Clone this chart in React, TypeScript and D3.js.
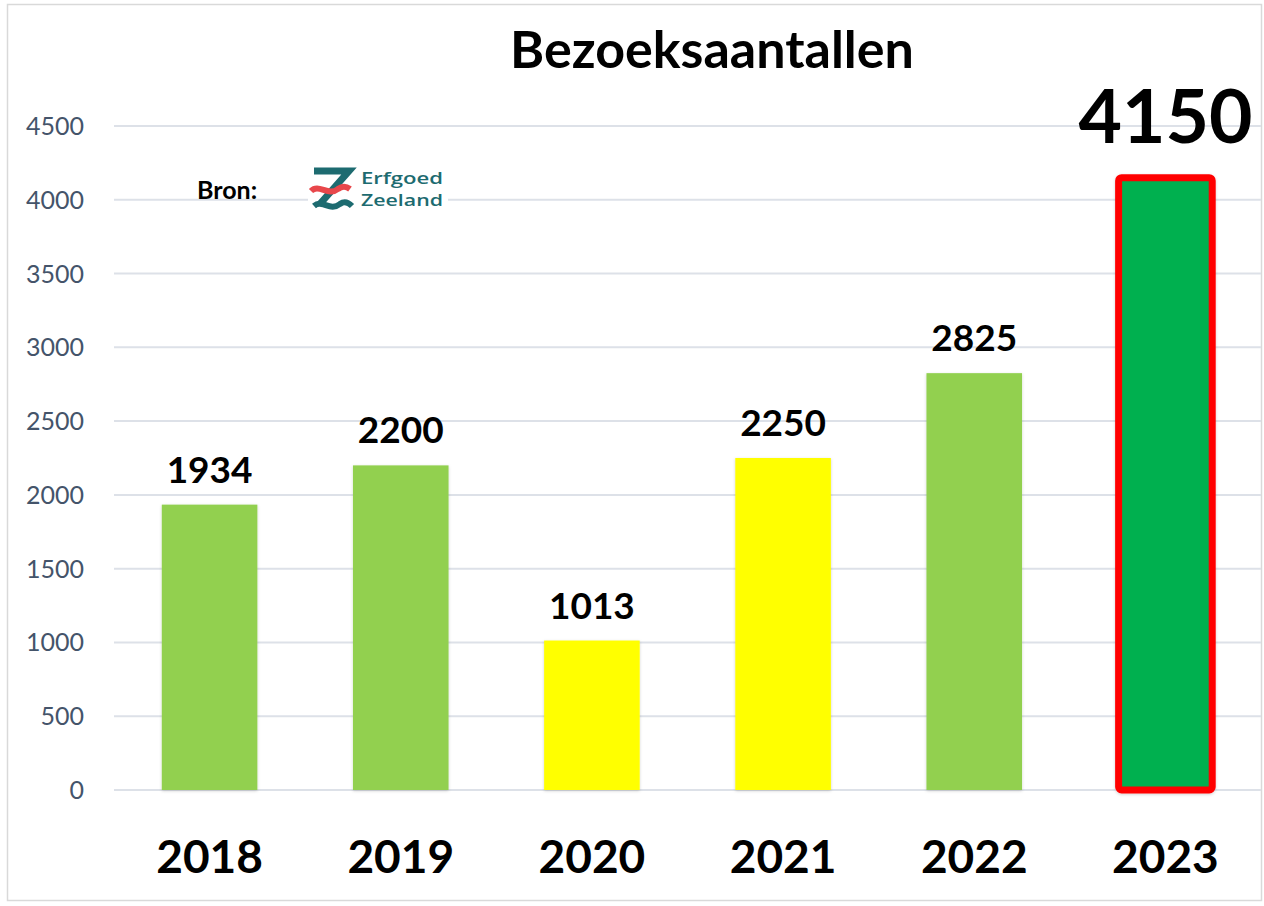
import React from "react";
import * as d3 from "d3";

const years = ["2018", "2019", "2020", "2021", "2022", "2023"];
const visitors = [1934, 2200, 1013, 2250, 2825, 4150];
const barColors = ["#92d050", "#92d050", "#ffff00", "#ffff00", "#92d050", "#00b050"];
const yTicks = [0, 500, 1000, 1500, 2000, 2500, 3000, 3500, 4000, 4500];
const chartTitle = "Bezoeksaantallen";

const W = 1264;
const H = 906;
const FONT = "Lato, 'Open Sans', sans-serif";

export default function App() {
  const x = d3.scaleBand<string>().domain(years).range([114, 1261]).paddingInner(0.5).paddingOuter(0.25);
  const y = d3.scaleLinear().domain([0, 4500]).range([790, 126]);
  const bw = x.bandwidth();
  const last = years.length - 1;

  return (
    <svg width={W} height={H} style={{ position: "absolute", left: 0, top: 0, background: "#fff" }} fontFamily={FONT}>
      <defs>
        <filter id="sh" x="-10%" y="-5%" width="120%" height="110%">
          <feDropShadow dx="0" dy="1" stdDeviation="1.5" floodColor="#000" floodOpacity="0.18" />
        </filter>
      </defs>
      <rect x={7.5} y={4.5} width={1254} height={896} fill="#fff" stroke="#d9d9d9" strokeWidth={1.5} />
      {yTicks.map((t) => (
        <g key={t}>
          <line x1={114} x2={1261} y1={y(t)} y2={y(t)} stroke="#dde1e8" strokeWidth={2} />
          <text x={84} y={y(t)} dy="0.36em" textAnchor="end" fontSize={25} fill="#44546a">
            {t}
          </text>
        </g>
      ))}
      <text x={712} y={68} textAnchor="middle" fontSize={52} fontWeight="bold" fill="#000">
        {chartTitle}
      </text>
      {/* Source */}
      <text x={197} y={199} fontSize={25} fontWeight="bold" fill="#000">Bron:</text>
      <g>
        <rect x={308} y={164} width={140} height={50} fill="#fff" />
        <path d="M314,171 L349,171 L319,205" fill="none" stroke="#1d6b70" strokeWidth={7} strokeLinejoin="miter" />
        <path d="M314,206 C322,199 330,212 340,204 C344,201 348,202 352,206" fill="none" stroke="#1d6b70" strokeWidth={6} />
        <path d="M311,191 C319,183 328,197 338,189 C342,186 346,186 350,189" fill="none" stroke="#e8474b" strokeWidth={6} />
        <text x={361} y={184} fontSize={16} fontWeight="600" fontFamily="'Open Sans', sans-serif" fill="#1d6b70" textLength={82} lengthAdjust="spacingAndGlyphs">Erfgoed</text>
        <text x={361} y={206} fontSize={16} fontWeight="600" fontFamily="'Open Sans', sans-serif" fill="#1d6b70" textLength={82} lengthAdjust="spacingAndGlyphs">Zeeland</text>
      </g>
      {years.map((yr, i) => {
        const v = visitors[i];
        const bx = x(yr)!;
        const isLast = i === last;
        return (
          <g key={yr}>
            {isLast ? (
              <rect x={bx + 1} y={y(v)} width={bw - 2} height={y(0) - y(v)} fill={barColors[i]} stroke="#ff0000" strokeWidth={7} rx={3} filter="url(#sh)" />
            ) : (
              <rect x={bx} y={y(v)} width={bw} height={y(0) - y(v)} fill={barColors[i]} filter="url(#sh)" />
            )}
            <text
              x={bx + bw / 2}
              y={isLast ? y(v) - 35 : y(v) - 22}
              textAnchor="middle"
              fontSize={isLast ? 75 : 37}
              fontWeight="bold"
              fill="#000"
            >
              {v}
            </text>
            <text x={bx + bw / 2} y={873} textAnchor="middle" fontSize={46} fontWeight="bold" fill="#000">
              {yr}
            </text>
          </g>
        );
      })}
    </svg>
  );
}
